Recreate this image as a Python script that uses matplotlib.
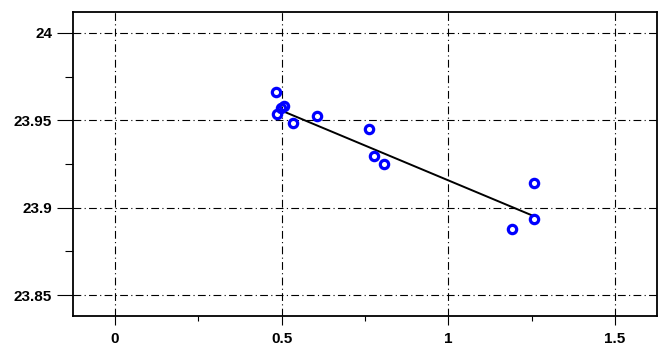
import numpy as np
import matplotlib
matplotlib.use("Agg")
import matplotlib.pyplot as plt
from matplotlib.ticker import MultipleLocator

plt.rcParams['font.family'] = ['Liberation Sans', 'DejaVu Sans']

x_pts = [0.483, 0.497, 0.507, 0.487, 0.533, 0.607, 0.762, 0.777, 0.807, 1.257, 1.257, 1.192]
y_pts = [23.966, 23.957, 23.958, 23.9536, 23.9486, 23.9526, 23.945, 23.9295, 23.925, 23.9144, 23.8933, 23.8876]

# fitted line end points
fit_x = [0.489, 1.251]
fit_y = [23.9564, 23.8956]

x_ticks = [0, 0.5, 1, 1.5]
x_labels = ['0', '0.5', '1', '1.5']
y_ticks = [23.85, 23.9, 23.95, 24]
y_labels = ['23.85', '23.9', '23.95', '24']

fig = plt.figure(figsize=(6.72, 3.56), dpi=100)
ax = fig.add_axes([73 / 672, 40 / 356, 584 / 672, 304 / 356])

ax.set_xlim(-0.126, 1.626)
ax.set_ylim(23.838, 24.012)

# dash-dot grid
ax.grid(True, which='major', color='black', linestyle=(0, (7, 3, 1, 3)), linewidth=0.8)
ax.set_axisbelow(True)

ax.plot(fit_x, fit_y, color='black', linewidth=1.4, zorder=3)
ax.plot(x_pts, y_pts, linestyle='none', marker='o', markersize=6, markerfacecolor='none',
        markeredgecolor='#0000ff', markeredgewidth=2.3, zorder=4)

ax.set_xticks(x_ticks)
ax.set_xticklabels(x_labels)
ax.set_yticks(y_ticks)
ax.set_yticklabels(y_labels)
ax.xaxis.set_minor_locator(MultipleLocator(0.25))
ax.yaxis.set_minor_locator(MultipleLocator(0.025))

ax.tick_params(axis='y', which='major', direction='out', length=11.5, width=0.8, pad=3.5)
ax.tick_params(axis='y', which='minor', direction='out', length=5.8, width=0.8)
ax.tick_params(axis='x', which='major', direction='out', length=6.5, width=0.8, pad=5)
ax.tick_params(axis='x', which='minor', direction='out', length=3.5, width=0.8)

for lab in ax.get_xticklabels() + ax.get_yticklabels():
    lab.set_fontweight('bold')
    lab.set_fontsize(11)

for sp in ax.spines.values():
    sp.set_linewidth(1.3)
    sp.set_color('black')

fig.savefig('out.png', dpi=100)
